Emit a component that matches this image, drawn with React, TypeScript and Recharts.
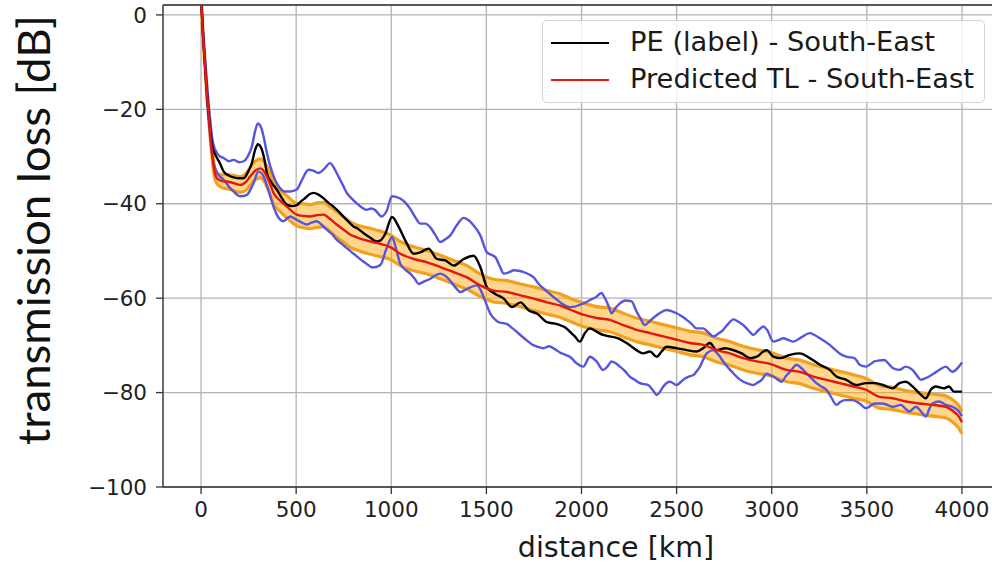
import { ComposedChart, Line, Area, XAxis, YAxis, CartesianGrid, ReferenceLine } from 'recharts'

// axis ticks
const xTicks = [0, 500, 1000, 1500, 2000, 2500, 3000, 3500, 4000]
const yTicks = [-100, -80, -60, -40, -20, 0]

// predicted TL and its uncertainty band
const predDist = [0, 10, 20, 30, 40, 50, 60, 70, 84, 110, 136, 170, 206, 240, 259, 285, 311, 337, 360, 381, 420, 451, 503, 540, 573, 610, 643, 680, 713, 750, 783, 818, 853, 890, 923, 942, 995, 1047, 1118, 1188, 1258, 1328, 1398, 1468, 1538, 1609, 1679, 1749, 1819, 1889, 1939, 2009, 2079, 2149, 2219, 2289, 2360, 2430, 2500, 2570, 2640, 2710, 2780, 2851, 2921, 2991, 3078, 3148, 3218, 3287, 3357, 3427, 3496, 3566, 3636, 3705, 3775, 3845, 3915, 3950, 3984, 4000]
const predTL = [4, -4, -10, -16, -21, -26, -30, -33, -34.6, -35.2, -35.3, -35.6, -36, -35.2, -34.2, -33, -32.5, -33.5, -35.5, -37.7, -39.5, -40.6, -42.3, -42.6, -42.7, -42.4, -42.3, -43.3, -44.4, -45.5, -46.5, -47.1, -47.6, -48, -48.3, -48.5, -49.2, -50.6, -51.7, -52.4, -53.4, -54.5, -55.6, -57.3, -58.4, -58.7, -59.4, -60.1, -60.9, -61.6, -62.4, -63.5, -64.2, -64.6, -65.7, -66.7, -67.4, -68.1, -68.8, -69.5, -69.9, -71, -71.7, -72.7, -73.4, -73.9, -75.2, -75.6, -76.6, -77.3, -78, -78.7, -79.4, -80.9, -81.2, -81.9, -82.3, -82.6, -83, -83.8, -85.1, -86.3]
const bandHigh = [4, -3.5, -9.3, -15.2, -20.2, -25, -29, -32, -33.5, -33.9, -33.8, -34, -34.3, -33.4, -32.3, -31, -30.5, -31.4, -33.3, -35.5, -37.3, -38.3, -39.9, -40, -40.2, -39.8, -39.7, -40.7, -41.7, -42.8, -43.8, -44.5, -44.9, -45.2, -45.6, -45.8, -46.6, -48, -49.1, -49.9, -50.9, -52, -53.1, -54.9, -56, -56.3, -57, -57.6, -58.4, -59.1, -60, -61, -61.8, -62.1, -63.2, -64.2, -64.9, -65.6, -66.3, -67, -67.4, -68.5, -69.2, -70.2, -70.9, -71.4, -72.7, -73.1, -74.1, -74.8, -75.5, -76.2, -77, -78.5, -78.9, -79.6, -80, -80.3, -80.7, -81.5, -82.8, -84]
const bandLow = [4, -4.5, -10.7, -16.8, -21.8, -27, -31, -34.2, -35.8, -36.6, -36.8, -37.2, -37.6, -37, -36, -34.9, -34.5, -35.6, -37.7, -40, -41.8, -43, -44.7, -45.1, -45.3, -45, -44.9, -45.9, -47.1, -48.1, -49.2, -49.8, -50.3, -50.7, -51, -51.2, -51.8, -53.1, -54.2, -54.9, -55.9, -57, -58.1, -59.7, -60.8, -61.1, -61.8, -62.6, -63.4, -64.1, -64.9, -66, -66.7, -67.1, -68.2, -69.2, -69.9, -70.6, -71.3, -72, -72.4, -73.5, -74.2, -75.2, -75.9, -76.4, -77.7, -78.1, -79.1, -79.8, -80.5, -81.2, -81.8, -83.3, -83.6, -84.2, -84.6, -85, -85.4, -86.2, -87.6, -88.7]

// PE label curve [distance km, TL dB]
const peLabel: [number, number][] = [
  [0, 4], [10, -4], [20, -10], [30, -16], [40, -21], [50, -25], [60, -28], [75, -29.6], [100, -31.5], [119, -33.2],
  [145, -34], [171, -34.4], [200, -34.6], [224, -34.6], [250, -33], [267, -31.4], [285, -28.5], [299, -27.4], [320, -28.6],
  [335, -31], [346, -33.5], [370, -35.5], [398, -37], [425, -38.8], [451, -40.2], [480, -40.5], [503, -40.3], [525, -39.5],
  [547, -38.8], [570, -38], [591, -37.7], [615, -38], [643, -38.8], [670, -39.8], [696, -40.6], [720, -41.5], [748, -42.7],
  [775, -43.8], [800, -44.8], [825, -45.3], [853, -46.2], [890, -47.2], [923, -48], [942, -47.8], [968, -46.4], [1004, -42.8],
  [1039, -44.9], [1074, -47.8], [1118, -50.6], [1153, -50.3], [1196, -49.5], [1240, -51.7], [1284, -52], [1328, -53.1],
  [1381, -51.7], [1433, -51], [1468, -53.4], [1503, -57.7], [1547, -59.1], [1591, -60.1], [1635, -61.9], [1679, -60.9],
  [1723, -62.6], [1767, -63.3], [1819, -65.1], [1872, -65.5], [1924, -66.5], [1939, -67.1], [1965, -68.1], [1991, -69.2],
  [2018, -67.4], [2044, -66.4], [2079, -67.1], [2114, -67.8], [2149, -68.1], [2193, -68.5], [2237, -69.5], [2289, -71],
  [2324, -71.7], [2360, -71.3], [2395, -72.4], [2421, -71.3], [2447, -70.3], [2500, -70.6], [2553, -71], [2605, -71.3],
  [2640, -70.6], [2675, -69.5], [2710, -71], [2754, -70.6], [2798, -71], [2842, -71.7], [2886, -72.7], [2921, -72.4],
  [2956, -71.3], [2974, -71], [3009, -72.4], [3044, -72.7], [3096, -72], [3148, -71.7], [3200, -72.7], [3253, -74.1],
  [3305, -75.2], [3340, -76.6], [3392, -77.3], [3444, -78.4], [3496, -78], [3540, -78], [3584, -78.4], [3636, -79.1],
  [3671, -78], [3705, -77.7], [3740, -78.7], [3775, -80.1], [3810, -81.2], [3836, -79.4], [3862, -78.7], [3906, -79.1],
  [3932, -78.7], [3958, -79.8], [3984, -79.8], [4000, -79.8],
]

// upper blue envelope
const envUpper: [number, number][] = [
  [0, 4], [10, -3], [20, -9], [30, -14], [40, -19], [50, -23], [60, -26.5], [75, -28.6], [100, -30], [119, -30.3], [145, -31],
  [171, -30.7], [200, -31.2], [224, -31], [245, -30], [267, -27.9], [285, -24.5], [299, -23], [315, -23.8], [329, -25.8],
  [345, -29], [364, -32.1], [390, -35], [416, -36.7], [440, -37.4], [469, -37.4], [503, -37], [530, -35], [565, -32.8],
  [590, -33], [617, -33.5], [650, -32.5], [678, -31.4], [700, -32.5], [722, -34.2], [745, -36], [766, -37.7], [790, -38.8],
  [818, -39.9], [845, -40.8], [870, -41.3], [895, -41], [914, -41.3], [949, -42.7], [975, -41.6], [1004, -38.4], [1047, -38.9],
  [1075, -39.8], [1100, -41.1], [1125, -42.8], [1153, -44.2], [1180, -44.2], [1205, -45], [1230, -46.5], [1258, -48.1],
  [1285, -47.5], [1310, -46.7], [1345, -44.5], [1381, -43], [1410, -43.6], [1433, -44.6], [1468, -46.7], [1503, -50.3],
  [1525, -50.8], [1547, -51.3], [1570, -53.2], [1591, -54.8], [1620, -54.5], [1644, -54.1], [1670, -54.2], [1696, -54.5],
  [1725, -55], [1749, -55.6], [1775, -57], [1802, -58], [1830, -59], [1854, -59.8], [1876, -60.5], [1898, -61.2], [1920, -61.7],
  [1942, -61.9], [1965, -61.8], [1991, -61.4], [2018, -61], [2044, -60.4], [2075, -59.8], [2105, -58.9], [2120, -59.8],
  [2132, -60.7], [2145, -62], [2158, -63.2], [2180, -62], [2202, -61.1], [2230, -60.5], [2263, -60.7], [2289, -62.8],
  [2310, -64.3], [2333, -65.7], [2355, -65], [2377, -64.2], [2410, -63.2], [2447, -62.5], [2475, -62.8], [2500, -63.2],
  [2525, -63.8], [2553, -64.6], [2580, -65.5], [2605, -66.4], [2640, -66.4], [2665, -67.2], [2693, -68.1], [2720, -67.5],
  [2745, -66.7], [2770, -65.5], [2798, -64.5], [2825, -65], [2851, -65.7], [2877, -66.8], [2903, -67.8], [2930, -66.8],
  [2956, -66], [2975, -66.7], [3009, -69.2], [3035, -68.9], [3061, -68.5], [3090, -68.9], [3113, -69.2], [3155, -68.3],
  [3200, -67.4], [3225, -67.8], [3253, -68.5], [3280, -69.2], [3305, -69.9], [3330, -70.8], [3357, -71.7], [3392, -72.4],
  [3435, -72.7], [3462, -74.1], [3496, -74.5], [3518, -74], [3540, -73.4], [3565, -73.2], [3592, -73.1], [3615, -73.9],
  [3636, -74.8], [3671, -75.2], [3705, -74.5], [3740, -75.2], [3762, -76.3], [3784, -77.3], [3805, -77], [3827, -76.6],
  [3855, -75.9], [3880, -75.2], [3915, -74.5], [3949, -75.6], [3984, -74.5], [4000, -73.6],
]

// lower blue envelope
const envLower: [number, number][] = [
  [0, 4], [10, -4], [20, -10], [30, -17], [40, -22], [50, -26.5], [66, -31.4], [90, -33.8], [119, -34.9], [145, -36.3],
  [171, -37.4], [206, -38.4], [241, -38.1], [260, -37], [276, -35.6], [302, -33.2], [315, -33.4], [329, -34.2], [345, -36],
  [364, -38.4], [380, -40.5], [398, -42.3], [415, -43.3], [433, -43.7], [450, -43.2], [469, -42.7], [485, -43], [503, -43.4],
  [530, -44], [556, -44.4], [580, -44], [608, -43.7], [635, -44.5], [661, -45.5], [690, -46.5], [713, -47.6], [740, -48.5],
  [766, -49.4], [790, -50.2], [818, -51.1], [845, -52], [870, -52.7], [900, -53.5], [942, -53], [975, -49.5], [1004, -47.1],
  [1025, -49.5], [1047, -52.7], [1075, -54], [1100, -54.8], [1125, -56], [1144, -57], [1175, -56.4], [1205, -55.9],
  [1230, -55.2], [1258, -54.8], [1285, -55.3], [1310, -56.3], [1335, -57.6], [1363, -58.7], [1390, -58.2], [1416, -57.7],
  [1451, -57.3], [1470, -58.3], [1486, -59.8], [1505, -61.8], [1521, -63.3], [1545, -64.5], [1565, -65.1], [1590, -65.3],
  [1609, -65.5], [1635, -66.3], [1661, -67.2], [1690, -68.2], [1714, -69], [1740, -69.8], [1770, -70.3], [1800, -70.6],
  [1830, -70.2], [1860, -70.8], [1890, -71.6], [1915, -72], [1939, -72.4], [1974, -73.8], [2009, -74.5], [2044, -72.4],
  [2079, -73.4], [2114, -75.2], [2136, -74.5], [2158, -73.4], [2180, -73.8], [2202, -74.5], [2230, -75.5], [2254, -76.6],
  [2280, -77.3], [2307, -78], [2330, -78.2], [2351, -78.4], [2375, -79.5], [2395, -80.5], [2413, -79.8], [2430, -78.7],
  [2465, -77.7], [2500, -78.4], [2520, -77.8], [2544, -77], [2565, -76.6], [2588, -76.3], [2605, -75.5], [2623, -74.5],
  [2640, -73], [2658, -71.7], [2693, -71], [2720, -72], [2745, -73.4], [2770, -74.7], [2798, -75.9], [2825, -77],
  [2851, -77.7], [2877, -78.1], [2903, -78.4], [2925, -77.9], [2947, -77.3], [2974, -76], [2991, -76.3], [3009, -76.6],
  [3030, -77.2], [3052, -77.7], [3075, -76.5], [3096, -75.6], [3131, -74.1], [3155, -74.8], [3183, -75.9], [3210, -77],
  [3235, -78], [3260, -78.7], [3287, -79.4], [3310, -80.8], [3340, -82.6], [3360, -82], [3383, -81.6], [3427, -81.6],
  [3462, -82.3], [3496, -83.3], [3520, -82.8], [3540, -82.3], [3584, -82.3], [3636, -83], [3679, -82.6], [3700, -83.3],
  [3723, -84], [3758, -83], [3785, -84], [3810, -85.1], [3828, -83.5], [3845, -82.3], [3880, -81.9], [3915, -82.6],
  [3949, -83], [3984, -84], [4000, -85],
]

const tickFont = { fontFamily: 'DejaVu Sans', fontSize: 21.5, fill: '#222' }
const fmt = (v: number) => (v < 0 ? '\u2212' + Math.abs(v) : String(v))

export default function App() {
  const predData = predDist.map((d, i) => ({
    d,
    tl: predTL[i],
    hi: bandHigh[i],
    lo: bandLow[i],
    band: [bandLow[i], bandHigh[i]],
  }))
  const rows = (pts: [number, number][]) => pts.map(([d, tl]) => ({ d, tl }))

  return (
    <div style={{ position: 'absolute', left: 0, top: 0, width: 992, height: 565, overflow: 'hidden', background: '#fff' }}>
      <ComposedChart width={1010} height={565} margin={{ top: 5, right: 10, left: 0, bottom: 0 }}>
        <CartesianGrid stroke="#b4b4b4" strokeWidth={1.3} />
        <XAxis
          dataKey="d"
          type="number"
          domain={[-200, 4200]}
          ticks={xTicks}
          allowDataOverflow
          height={78}
          tickSize={7}
          tickMargin={8}
          stroke="#333"
          strokeWidth={1.3}
          tick={tickFont}
          label={() => (
            <text x={616} y={557} textAnchor="middle" fontFamily="DejaVu Sans" fontSize={28.5} fill="#1a1a1a">
              distance [km]
            </text>
          )}
        />
        <YAxis
          type="number"
          domain={[-100, 2.1]}
          ticks={yTicks}
          allowDataOverflow
          width={163}
          tickSize={7}
          tickMargin={9}
          stroke="#333"
          strokeWidth={1.3}
          tick={tickFont}
          tickFormatter={fmt}
          label={() => (
            <text
              x={50}
              y={230}
              transform="rotate(-90 50 230)"
              textAnchor="middle"
              fontFamily="Lato"
              fontSize={44}
              textLength={430}
              lengthAdjust="spacingAndGlyphs"
              fill="#111"
            >
              transmission loss [dB]
            </text>
          )}
        />
        <ReferenceLine y={2.1} stroke="#333" strokeWidth={1.3} />
        <Area data={predData} dataKey="band" type="monotone" stroke="none" fill="#ffa500" fillOpacity={0.45} isAnimationActive={false} />
        <Line data={predData} dataKey="hi" type="monotone" stroke="#f2a11f" strokeWidth={3.2} dot={false} isAnimationActive={false} />
        <Line data={predData} dataKey="lo" type="monotone" stroke="#f2a11f" strokeWidth={3.2} dot={false} isAnimationActive={false} />
        <Line data={rows(envUpper)} dataKey="tl" type="monotone" stroke="#5555dd" strokeWidth={2.4} dot={false} isAnimationActive={false} />
        <Line data={rows(envLower)} dataKey="tl" type="monotone" stroke="#5555dd" strokeWidth={2.4} dot={false} isAnimationActive={false} />
        <Line data={rows(peLabel)} dataKey="tl" type="monotone" stroke="#000" strokeWidth={2.4} dot={false} isAnimationActive={false} />
        <Line data={predData} dataKey="tl" type="monotone" stroke="#e3170f" strokeWidth={2.4} dot={false} isAnimationActive={false} />
      </ComposedChart>
      <div
        style={{
          position: 'absolute',
          left: 542,
          top: 20,
          width: 441,
          height: 81,
          border: '1px solid #d4d4d4',
          borderRadius: 5,
          background: 'rgba(255,255,255,0.8)',
          fontFamily: 'DejaVu Sans',
          fontSize: 27.3,
          color: '#1a1a1a',
        }}
      >
        {[
          { name: 'PE (label) - South-East', color: '#000', top: 22 },
          { name: 'Predicted TL - South-East', color: '#e3170f', top: 59 },
        ].map(item => (
          <div key={item.name}>
            <div style={{ position: 'absolute', left: 8, top: item.top - 1, width: 58, height: 2.2, background: item.color }} />
            <div style={{ position: 'absolute', left: 87, top: item.top - 17, lineHeight: '32px', whiteSpace: 'nowrap' }}>{item.name}</div>
          </div>
        ))}
      </div>
    </div>
  )
}
